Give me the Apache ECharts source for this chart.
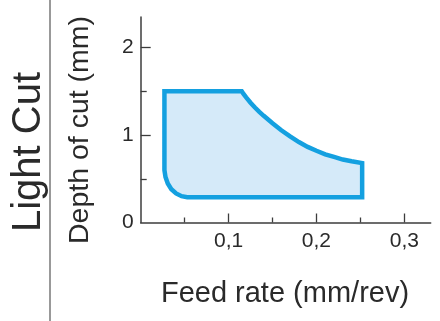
<!DOCTYPE html>
<html>
<head>
<meta charset="utf-8">
<script src="https://cdn.jsdelivr.net/npm/echarts@6/dist/echarts.min.js"></script>
<style>
  html, body { margin: 0; padding: 0; background: #fff; }
  #chart { width: 440px; height: 321px; }
</style>
</head>
<body>
<div id="chart"></div>
<script>
// Operating window for a light cut: boundary traced clockwise from the top-left corner
const feedRate = [
  0.027, 0.115, 0.117, 0.120, 0.125, 0.130, 0.135, 0.140, 0.150, 0.160, 0.170,
  0.180, 0.190, 0.200, 0.210, 0.220, 0.230, 0.240, 0.252, 0.252,
  0.053, 0.0465, 0.0403, 0.0349, 0.0308, 0.0282, 0.027
];
const depthOfCut = [
  1.50, 1.50, 1.47, 1.43, 1.37, 1.315, 1.265, 1.22, 1.135, 1.055, 0.985,
  0.92, 0.865, 0.82, 0.78, 0.75, 0.72, 0.70, 0.68, 0.29,
  0.29, 0.301, 0.332, 0.381, 0.445, 0.52, 0.60
];

// Axis ticks and labels
const xMajorTicks = [0.1, 0.2, 0.3];
const xMinorTicks = [0.05, 0.15, 0.25];
const yMajorTicks = [1, 2];
const yMinorTicks = [0.5, 1.5];
const yLabels     = [0, 1, 2];

const FONT = '"Liberation Sans", Arial, sans-serif';
const AXIS_COLOR = '#3c3c3c';
const TEXT_COLOR = '#2a2a2a';

const boundary = feedRate.map((f, i) => [f, depthOfCut[i]]);

const chart = echarts.init(document.getElementById('chart'), null, { renderer: 'canvas' });

const xBase = {
  type: 'value', min: 0, max: 0.33, interval: 0.1, position: 'bottom',
  splitLine: { show: false }
};
const yBase = {
  type: 'value', min: 0, max: 2.35, interval: 1, position: 'left',
  splitLine: { show: false }
};

chart.setOption({
  animation: false,
  grid: { left: 140.7, right: 9.3, top: 17, bottom: 98.5 },
  xAxis: [
    Object.assign({}, xBase, {
      axisLine: { show: true, lineStyle: { color: AXIS_COLOR, width: 1.5 } },
      axisTick: { show: true, inside: true, length: 9, customValues: xMajorTicks,
                  lineStyle: { color: AXIS_COLOR, width: 1.3 } },
      axisLabel: { show: true, customValues: xMajorTicks, margin: 8,
                   fontFamily: FONT, fontSize: 21, color: TEXT_COLOR,
                   formatter: v => String(Math.round(v * 10) / 10).replace('.', ',') }
    }),
    Object.assign({}, xBase, {
      axisLine: { show: false },
      axisTick: { show: true, inside: true, length: 5, customValues: xMinorTicks,
                  lineStyle: { color: AXIS_COLOR, width: 1.3 } },
      axisLabel: { show: false }
    })
  ],
  yAxis: [
    Object.assign({}, yBase, {
      axisLine: { show: true, lineStyle: { color: AXIS_COLOR, width: 1.5 } },
      axisTick: { show: true, inside: true, length: 10, customValues: yMajorTicks,
                  lineStyle: { color: AXIS_COLOR, width: 1.3 } },
      axisLabel: { show: true, customValues: yLabels, margin: 7,
                   fontFamily: FONT, fontSize: 21, color: TEXT_COLOR }
    }),
    Object.assign({}, yBase, {
      axisLine: { show: false },
      axisTick: { show: true, inside: true, length: 6, customValues: yMinorTicks,
                  lineStyle: { color: AXIS_COLOR, width: 1.3 } },
      axisLabel: { show: false }
    })
  ],
  graphic: [
    { type: 'line', shape: { x1: 50, y1: 0, x2: 50, y2: 321 },
      style: { stroke: '#777', lineWidth: 1.5 } },
    { type: 'text', x: 29, y: 152, rotation: Math.PI / 2,
      style: { text: 'Light Cut', font: '40px ' + FONT, fill: TEXT_COLOR,
               textAlign: 'center', textVerticalAlign: 'middle' } },
    { type: 'text', x: 80, y: 130, rotation: Math.PI / 2,
      style: { text: 'Depth of cut (mm)', font: '28.5px ' + FONT, fill: TEXT_COLOR,
               textAlign: 'center', textVerticalAlign: 'middle' } },
    { type: 'text', x: 285, y: 294,
      style: { text: 'Feed rate (mm/rev)', font: '29px ' + FONT, fill: TEXT_COLOR,
               textAlign: 'center', textVerticalAlign: 'middle' } }
  ],
  series: [{
    type: 'custom',
    coordinateSystem: 'cartesian2d',
    xAxisIndex: 0, yAxisIndex: 0,
    data: boundary,
    renderItem: function (params, api) {
      if (params.dataIndex !== 0) return null;
      const pts = boundary.map(p => api.coord(p));
      return {
        type: 'polygon',
        shape: { points: pts },
        style: { fill: '#d5eaf9', stroke: '#14a0e0', lineWidth: 4.5, lineJoin: 'miter' }
      };
    }
  }]
});
</script>
</body>
</html>
